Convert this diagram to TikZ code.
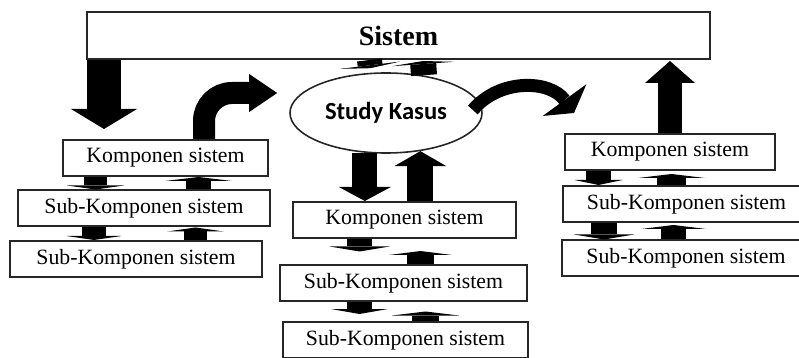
\documentclass[tikz,border=0pt]{standalone}
\usepackage{fontspec}
\setmainfont{Liberation Serif}
\newfontfamily\kasusfont{Carlito}
\usetikzlibrary{calc,arrows.meta,shapes.geometric}

\begin{document}
\begin{tikzpicture}[x=.5pt,y=-.5pt, every node/.style={font=\fontsize{10.9}{13}\selectfont},
  kotak/.style={draw=black!85,line width=1pt,inner sep=0pt,minimum height=18pt},
  blok/.style n args={3}{line width=#1,-{Triangle[width=#2,length=#3,line width=0pt]}}]
  \useasboundingbox (0,0) rectangle (799,358);
  \clip (0,0) rectangle (799,358);
  \node[kotak,minimum width=311.5pt,minimum height=23.5pt,font=\bfseries\fontsize{14}{16}\selectfont] (sistem) at (398.5,35.5) {Sistem};
  \node[ellipse,draw=black!85,line width=.8pt,minimum width=96pt,minimum height=40pt,inner sep=0pt,
    font=\kasusfont\bfseries\fontsize{12.3}{14}\selectfont] (kasus) at (386,113) {Study Kasus};
  \node[kotak,minimum width=102.5pt] (kL) at (165.5,158) {Komponen sistem};
  \node[kotak,minimum width=126pt] (sL1) at (144,208.5) {Sub-Komponen sistem};
  \node[kotak,minimum width=126pt] (sL2) at (136,259) {Sub-Komponen sistem};
  \node[kotak,minimum width=111.5pt] (kM) at (404.5,220) {Komponen sistem};
  \node[kotak,minimum width=123.5pt] (sM1) at (403.5,283.5) {Sub-Komponen sistem};
  \node[kotak,minimum width=122.5pt] (sM2) at (405.5,340) {Sub-Komponen sistem};
  \node[kotak,minimum width=105pt] (kR) at (670,152) {Komponen sistem};
  \node[kotak,minimum width=123.5pt] (sR1) at (686.5,204) {Sub-Komponen sistem};
  \node[kotak,minimum width=124pt] (sR2) at (686,258.5) {Sub-Komponen sistem};
  \draw[blok={17pt}{33pt}{10pt}] ($(sistem.south west)+(18,0)$) -- ($(kL.north west)+(42,-10)$);
  \draw[blok={12pt}{25pt}{11pt}] (kR.north) -- ($(kR.north |- sistem.south)+(0,1)$);
  \draw[blok={12.5pt}{26pt}{7pt}] (kasus.242) -- (kasus.242 |- kM.north);
  \draw[blok={13pt}{26pt}{7.5pt}] (kasus.312 |- kM.north) -- (kasus.312);
  \draw[blok={12.5pt}{30pt}{1.5pt}] ($(sistem.south west)+(283.5,0)$) -- ($(kasus.north)+(-15.5,-4)$);
  \draw[blok={13pt}{31pt}{1.5pt}] ($(kasus.north)+(38,3)$) -- ($(sistem.south west)+(337,1)$);
  \draw[blok={11pt}{19pt}{14pt},rounded corners=14pt] ($(kL.north west)+(142,0)$) |- ($(kasus.west)+(-12,-20)$);
  \draw[blok={6.5pt}{27pt}{8pt}] ($(kasus.east)+(-10,-3)$) .. controls (500,78) and (550,80) .. ($(kR.north west)+(10,-20)$);
  \draw[blok={11.5pt}{28.5pt}{2pt}] ($(kL.south west)+(33.5,0)$) -- ($(sL1.north west)+(78.5,0)$);
  \draw[blok={12.5pt}{33.5pt}{2pt}] ($(sL1.north west)+(181.5,0)$) -- ($(kL.south west)+(136.5,0)$);
  \draw[blok={12pt}{27.5pt}{2pt}] ($(sL1.south west)+(77,0)$) -- ($(sL2.north west)+(85,0)$);
  \draw[blok={11.5pt}{28.5pt}{2pt}] ($(sL2.north west)+(186.5,0)$) -- ($(sL1.south west)+(178.5,0)$);
  \draw[blok={12.5pt}{30pt}{2.5pt}] ($(kM.south west)+(67.5,0)$) -- ($(sM1.north west)+(80.5,-13)$);
  \draw[blok={13.5pt}{31.5pt}{2pt}] ($(sM1.north west)+(141.5,0)$) -- ($(kM.south west)+(128.5,12)$);
  \draw[blok={12.5pt}{28.5pt}{2.5pt}] ($(sM1.south west)+(80.5,0)$) -- ($(sM2.north west)+(77.5,-7)$);
  \draw[blok={13.5pt}{33.5pt}{2pt}] ($(sM2.north west)+(143.5,0)$) -- ($(sM1.south west)+(146.5,9)$);
  \draw[blok={12.5pt}{24pt}{2.5pt}] ($(kR.south west)+(34.5,0)$) -- ($(sR1.north west)+(36.5,0)$);
  \draw[blok={14.5pt}{33.5pt}{2pt}] ($(sR1.north west)+(109.5,0)$) -- ($(kR.south west)+(107.5,3)$);
  \draw[blok={13pt}{30pt}{2.5pt}] ($(sR1.south west)+(42,0)$) -- ($(sR2.north west)+(43,0)$);
  \draw[blok={12.5pt}{32.5pt}{2pt}] ($(sR2.north west)+(112.5,0)$) -- ($(sR1.south west)+(111.5,2)$);
\end{tikzpicture}
\end{document}
